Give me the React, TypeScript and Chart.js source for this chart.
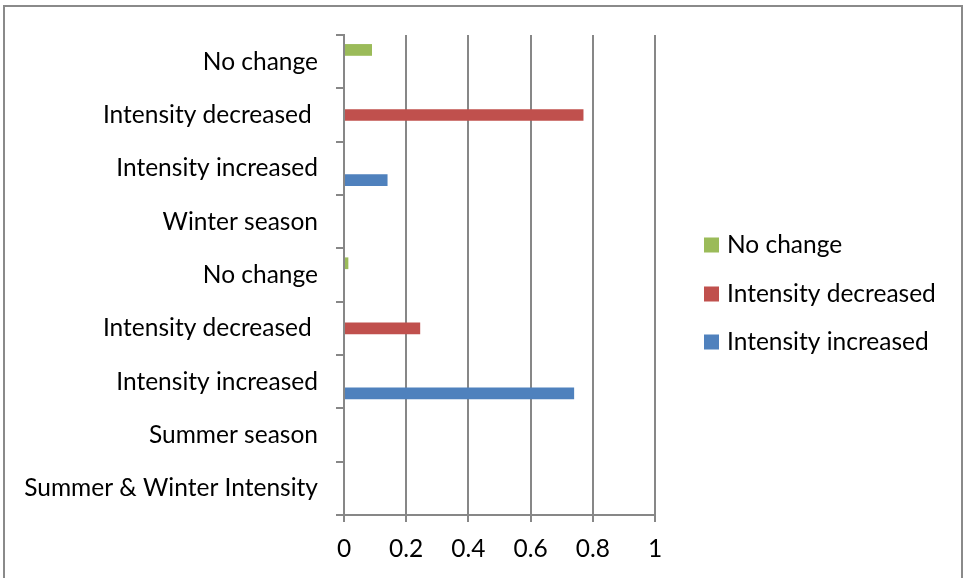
import React, { useEffect, useRef } from "react";
import { Chart, registerables } from "chart.js";

Chart.register(...registerables);

const categories = [
  "No change",
  "Intensity decreased ",
  "Intensity increased",
  "Winter season",
  "No change",
  "Intensity decreased ",
  "Intensity increased",
  "Summer season",
  "Summer & Winter Intensity",
];

const noChange = [0.09, null, null, null, 0.014, null, null, null, null];
const intensityDecreased = [null, 0.77, null, null, null, 0.245, null, null, null];
const intensityIncreased = [null, null, 0.14, null, null, null, 0.74, null, null];

const seriesNames = ["No change", "Intensity decreased", "Intensity increased"];
const seriesColors = ["#9BBB59", "#C0504D", "#4F81BD"];
const xTicks = [0, 0.2, 0.4, 0.6, 0.8, 1];

const FONT_FAMILY = "Lato";
const FONT_SIZE = 24.5;
const GRID = "#878787";

const legendPlugin = {
  id: "customLegend",
  afterDraw(chart: any) {
    const ctx = chart.ctx;
    const centers = [245, 294, 342];
    ctx.save();
    ctx.font = `${FONT_SIZE}px ${FONT_FAMILY}`;
    ctx.textBaseline = "middle";
    ctx.textAlign = "left";
    chart.data.datasets.forEach((ds: any, i: number) => {
      const cy = centers[i];
      ctx.fillStyle = ds.backgroundColor;
      ctx.fillRect(704, cy - 7.5, 15, 15);
      ctx.fillStyle = "#000";
      ctx.fillText(ds.label, 727, cy);
    });
    ctx.restore();
  },
};

export default function App() {
  const ref = useRef<HTMLCanvasElement>(null);
  useEffect(() => {
    document.body.style.margin = "0";
    const canvas = ref.current!;
    const data = [noChange, intensityDecreased, intensityIncreased];
    const chart = new Chart(canvas, {
      type: "bar",
      data: {
        labels: categories,
        datasets: data.map((d, i) => ({
          label: seriesNames[i],
          data: d as any,
          backgroundColor: seriesColors[i],
          borderWidth: 0,
          categoryPercentage: 0.66,
          barPercentage: 1,
        })),
      },
      plugins: [legendPlugin],
      options: {
        indexAxis: "y",
        responsive: false,
        animation: false,
        layout: { padding: { top: 35, right: 309, left: 0, bottom: 0 } },
        plugins: { legend: { display: false }, tooltip: { enabled: false } },
        scales: {
          y: {
            type: "category",
            offset: true,
            grid: {
              offset: true,
              drawOnChartArea: false,
              drawTicks: true,
              tickLength: 8,
              color: GRID,
              lineWidth: 2,
            },
            border: { display: true, color: GRID, width: 2 },
            ticks: {
              color: "#000",
              padding: 18,
              font: { family: FONT_FAMILY, size: FONT_SIZE },
              autoSkip: false,
            },
            afterFit: (s: any) => {
              s.width = 344;
            },
          },
          x: {
            type: "linear",
            min: 0,
            max: 1,
            afterBuildTicks: (s: any) => {
              s.ticks = xTicks.map((v) => ({ value: v }));
            },
            grid: {
              color: GRID,
              lineWidth: 2,
              drawTicks: true,
              tickLength: 7,
            },
            border: { display: true, color: GRID, width: 2 },
            ticks: {
              color: "#000",
              padding: 12,
              font: { family: FONT_FAMILY, size: FONT_SIZE },
              callback: (v: any) => String(Math.round(Number(v) * 10) / 10),
            },
            afterFit: (s: any) => {
              s.height = 63;
            },
          },
        },
      },
    });
    return () => chart.destroy();
  }, []);
  return (
    <div style={{ position: "relative", width: 964, height: 578, overflow: "hidden", background: "#fff" }}>
      <canvas ref={ref} width={964} height={578} style={{ display: "block" }} />
      <div
        style={{
          position: "absolute",
          left: 3,
          top: 5,
          width: 956,
          height: 600,
          border: "2px solid #8a8a8a",
          pointerEvents: "none",
        }}
      />
    </div>
  );
}
